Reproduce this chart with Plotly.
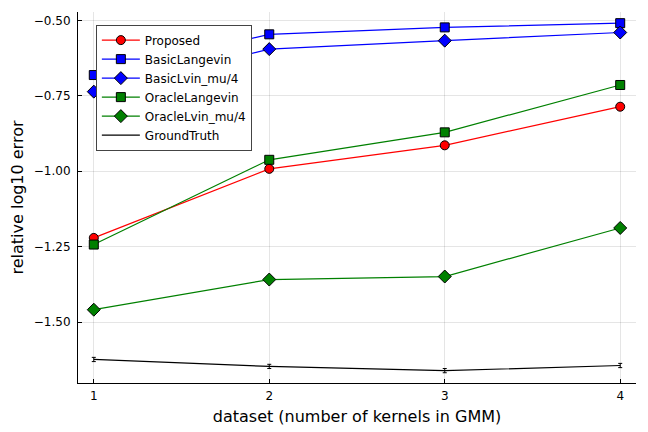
import plotly.graph_objects as go

datasets = [1, 2, 3, 4]
proposed = [-1.221, -0.992, -0.914, -0.786]
basic_langevin = [-0.681, -0.546, -0.523, -0.509]
basic_lvin_mu4 = [-0.736, -0.595, -0.567, -0.540]
oracle_langevin = [-1.243, -0.962, -0.871, -0.714]
oracle_lvin_mu4 = [-1.459, -1.359, -1.349, -1.188]
ground_truth = [-1.624, -1.647, -1.661, -1.644]
ground_truth_err = [0.007, 0.007, 0.007, 0.007]

series = [
    ("Proposed", proposed, "#FF0000", "circle"),
    ("BasicLangevin", basic_langevin, "#0000FF", "square"),
    ("BasicLvin_mu/4", basic_lvin_mu4, "#0000FF", "diamond"),
    ("OracleLangevin", oracle_langevin, "#008000", "square"),
    ("OracleLvin_mu/4", oracle_lvin_mu4, "#008000", "diamond"),
]

fig = go.Figure()
for name, vals, color, sym in series:
    fig.add_trace(go.Scatter(
        x=datasets, y=vals, name=name, mode="lines+markers",
        line=dict(color=color, width=1.2),
        marker=dict(symbol=sym, size=10 if sym == "diamond" else 9, color=color,
                    line=dict(color="black", width=1)),
    ))
fig.add_trace(go.Scatter(
    x=datasets, y=ground_truth, name="GroundTruth", mode="lines",
    line=dict(color="black", width=1.2),
    error_y=dict(type="data", array=ground_truth_err, color="black", thickness=1, width=2),
))

axis_common = dict(
    showgrid=True, gridcolor="rgba(0,0,0,0.1)", gridwidth=0.6,
    zeroline=False, showline=True, linecolor="black", linewidth=1,
    ticks="inside", ticklen=4, tickcolor="black", mirror=False,
    automargin=False,
    tickfont=dict(family="DejaVu Sans", size=12, color="black"),
    title_font=dict(family="DejaVu Sans", size=16, color="black"),
)

fig.update_layout(
    width=640, height=424,
    margin=dict(l=70, r=12, t=4, b=49),
    plot_bgcolor="white", paper_bgcolor="white",
    font=dict(family="DejaVu Sans", color="black"),
    xaxis=dict(axis_common, range=[0.91, 4.09], tickvals=datasets,
               ticktext=["1", "2", "3", "4"], ticklabelstandoff=2,
               title=dict(text="dataset (number of kernels in GMM)", standoff=8)),
    yaxis=dict(axis_common, range=[-1.702, -0.472],
               tickvals=[-1.5, -1.25, -1.0, -0.75, -0.5],
               ticktext=["\u22121.50", "\u22121.25", "\u22121.00", "\u22120.75", "\u22120.50"],
               ticklabelstandoff=4,
               title=dict(text="relative log10 error", standoff=10)),
    legend=dict(x=0.032, y=0.966, xanchor="left", yanchor="top",
                bgcolor="white", bordercolor="#444444", borderwidth=1,
                font=dict(family="DejaVu Sans", size=12, color="black"),
                tracegroupgap=0, itemwidth=38),
    showlegend=True,
)

fig.write_html("out.html")
